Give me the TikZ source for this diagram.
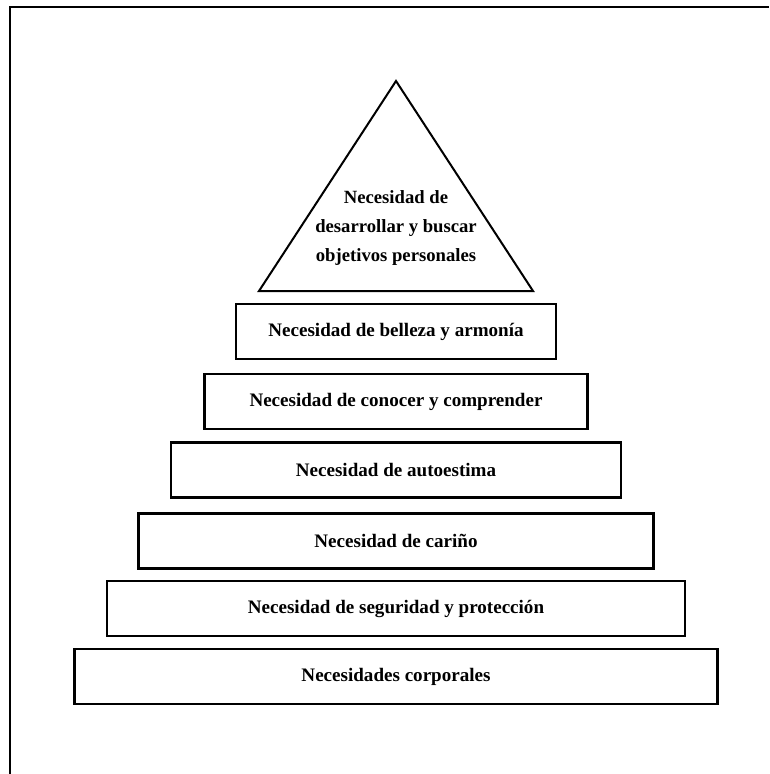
\documentclass[tikz,border=0pt]{standalone}
\usepackage{fontspec}
\setmainfont{Liberation Serif}
\usetikzlibrary{positioning}

\tikzset{
  nivel/.style={draw, line width=1.6pt, minimum height=55*0.75pt,
    font=\fontsize{14.3}{17}\selectfont\bfseries, inner sep=0pt},
  cima/.style={align=center, font=\fontsize{14}{21.5}\selectfont\bfseries},
  marco/.style={line width=1.6pt}
}

\begin{document}
\begin{tikzpicture}[x=0.75pt,y=-0.75pt]
  \useasboundingbox (0,0) rectangle (769,774);

  % frame (only top and left sides)
  \draw[marco] (10,774) -- (10,7) -- (769,7);

  % top of the pyramid
  \coordinate (apex) at (396,81);
  \coordinate (baseL) at (259,291);
  \coordinate (baseR) at (533,291);
  \draw[line width=1.5pt, line join=miter] (baseL) -- (apex) -- (baseR) -- cycle;
  \node[cima] (objetivos) at (396,228)
    {Necesidad de\\desarrollar y buscar\\objetivos personales};

  % the steps, bottom to top
  \foreach \yc/\w/\name/\label in
  {
    676.5/643/corporales/Necesidades corporales,
    608.5/578/seguridad/Necesidad de seguridad y protección,
    541/515/carino/Necesidad de cariño,
    470/450/autoestima/Necesidad de autoestima,
    401.5/383/conocer/Necesidad de conocer y comprender,
    331.5/320/belleza/Necesidad de belleza y armonía
  }
  {
    \node[nivel, minimum width=\w*0.75pt] (\name) at (396,\yc) {\label};
  }
\end{tikzpicture}
\end{document}
